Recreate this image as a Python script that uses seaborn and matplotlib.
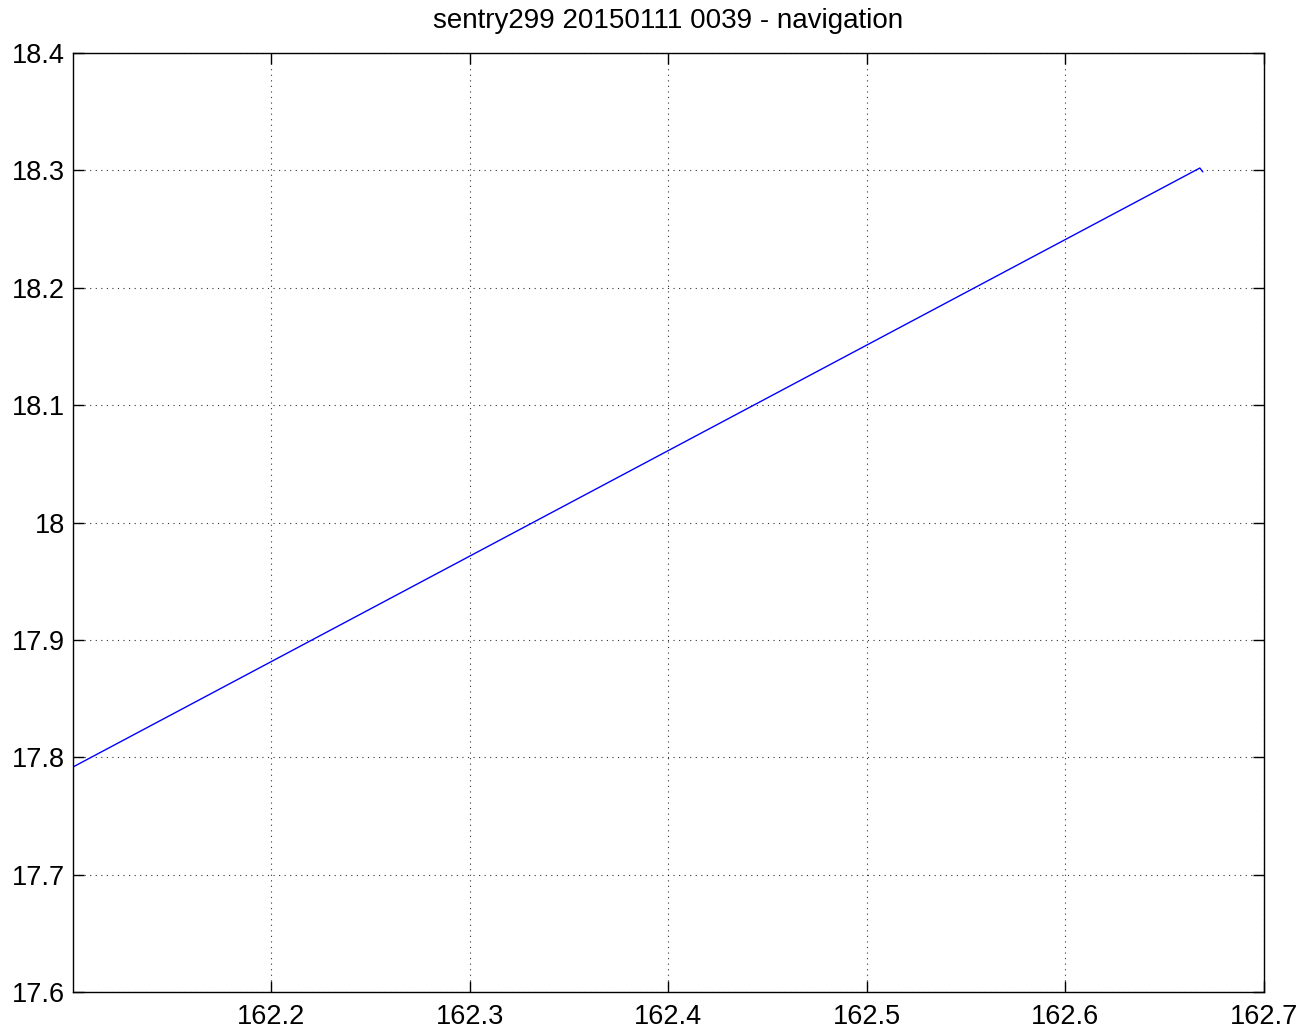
import matplotlib
matplotlib.use("Agg")
import matplotlib.pyplot as plt
import seaborn as sns
import pandas as pd

# Vehicle track (longitude, latitude)
lon = [162.1003, 162.6677, 162.6692]
lat = [17.7917, 18.3020, 18.2987]

x_ticks = [162.2, 162.3, 162.4, 162.5, 162.6, 162.7]
y_ticks = [17.6, 17.7, 17.8, 17.9, 18.0, 18.1, 18.2, 18.3, 18.4]
y_labels = ["17.6", "17.7", "17.8", "17.9", "18", "18.1", "18.2", "18.3", "18.4"]
title = "sentry299 20150111 0039 - navigation"

sns.set_theme(style="white")
plt.rcParams["font.family"] = ["Liberation Sans", "DejaVu Sans"]

df = pd.DataFrame({"lon": lon, "lat": lat})

fig = plt.figure(figsize=(13.05, 10.34), dpi=100)
ax = fig.add_axes([73 / 1305, 1 - 992 / 1034, (1264 - 73) / 1305, (992 - 53) / 1034])

sns.lineplot(data=df, x="lon", y="lat", sort=False, color="#0000ff",
             linewidth=1.0, ax=ax, estimator=None)

ax.set_xlim(162.1003, 162.7)
ax.set_ylim(17.6, 18.4)
ax.set_xticks(x_ticks)
ax.set_xticklabels([f"{v:.1f}" for v in x_ticks])
ax.set_yticks(y_ticks)
ax.set_yticklabels(y_labels)
ax.set_xlabel("")
ax.set_ylabel("")

ax.grid(True, color="black", linestyle=(0, (1, 4)), linewidth=0.8, alpha=0.8)
for s in ax.spines.values():
    s.set_color("black")
    s.set_linewidth(1.0)

ax.tick_params(axis="both", direction="in", length=8, width=1.0, colors="black",
               labelsize=19.5, top=True, right=True, bottom=True, left=True)
ax.tick_params(axis="x", pad=9)
ax.tick_params(axis="y", pad=6)
ax.set_title(title, fontsize=20, pad=18, color="black")

fig.savefig("out.png", dpi=100, facecolor="white")
